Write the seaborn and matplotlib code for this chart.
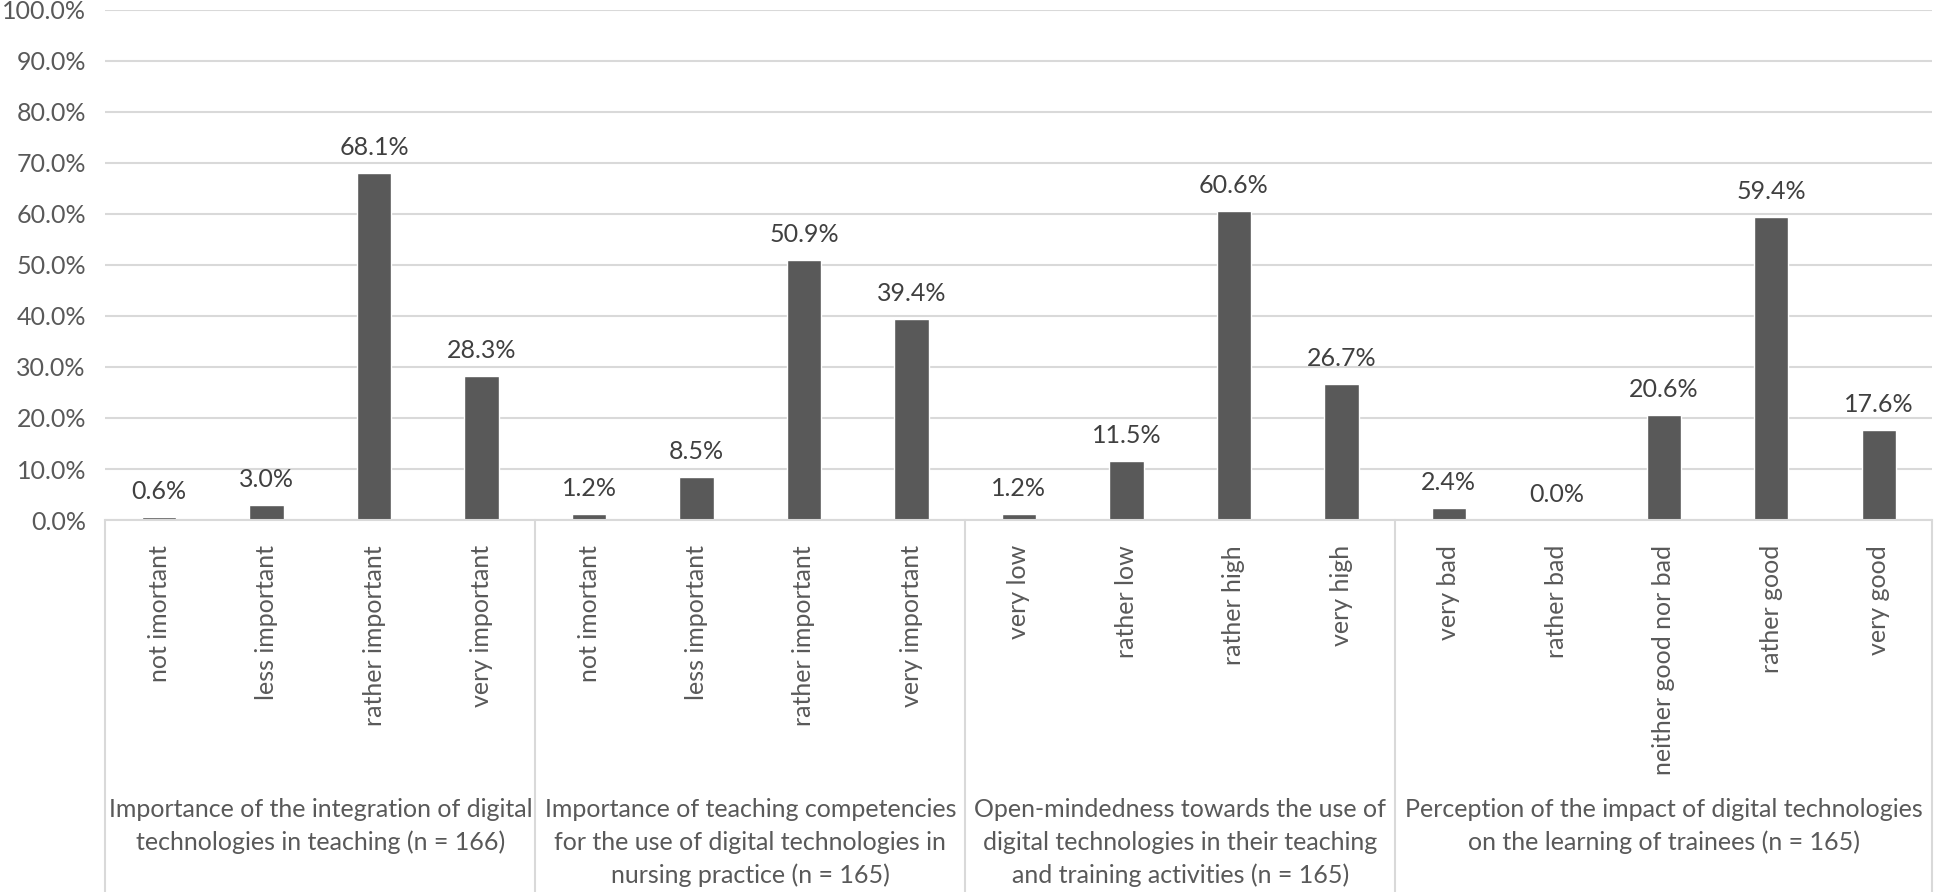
import numpy as np
import pandas as pd
import matplotlib
matplotlib.use('Agg')
import matplotlib.pyplot as plt
import matplotlib.transforms as mtransforms
import seaborn as sns

sns.set_theme(style='white')
plt.rcParams['font.family'] = ['Lato', 'DejaVu Sans']

# answers per question, in reading order
answers = ['not imortant', 'less important', 'rather important', 'very important',
           'not imortant', 'less important', 'rather important', 'very important',
           'very low', 'rather low', 'rather high', 'very high',
           'very bad', 'rather bad', 'neither good nor bad', 'rather good', 'very good']
percent = [0.6, 3.0, 68.1, 28.3,
           1.2, 8.5, 50.9, 39.4,
           1.2, 11.5, 60.6, 26.7,
           2.4, 0.0, 20.6, 59.4, 17.6]
group_sizes = [4, 4, 4, 5]
group_labels = ['Importance of the integration of digital\ntechnologies in teaching (n = 166)',
                'Importance of teaching competencies\nfor the use of digital technologies in\nnursing practice (n = 165)',
                'Open-mindedness towards the use of\ndigital technologies in their teaching\nand training activities (n = 165)',
                'Perception of the impact of digital technologies\non the learning of trainees (n = 165)']

df = pd.DataFrame({'pos': np.arange(len(percent)), 'answer': answers, 'percent': percent})

fig = plt.figure(figsize=(19.52, 8.92), dpi=100)
ax = fig.add_axes([0.054, 0.417, 0.936, 0.572])

sns.barplot(data=df, x='pos', y='percent', color='#595959', saturation=1,
            width=0.32, ax=ax)

fs = 18
ax.set_ylim(0, 100)
ax.set_xlim(-0.5, len(percent) - 0.5)
ax.set_yticks(np.arange(0, 101, 10))
ax.set_yticklabels([f'{v:.1f}%' for v in np.arange(0, 101, 10)], fontsize=fs, color='#595959')
ax.set_xticks(df['pos'])
ax.set_xticklabels(df['answer'], rotation=90, fontsize=fs, color='#595959', va='top')
ax.tick_params(axis='y', length=0, pad=14)
ax.tick_params(axis='x', length=0, pad=18)
ax.set_xlabel('')
ax.set_ylabel('')
ax.yaxis.grid(True, color='#d9d9d9', linewidth=1.5)
ax.set_axisbelow(True)
for s in ['top', 'right', 'left']:
    ax.spines[s].set_visible(False)
ax.spines['bottom'].set_color('#d9d9d9')
ax.spines['bottom'].set_linewidth(1.5)

for c in ax.containers:
    ax.bar_label(c, labels=[f'{v:.1f}%' for v in percent], padding=10,
                 fontsize=fs, color='#404040')

# group boxes under the axis
trans = mtransforms.blended_transform_factory(ax.transData, ax.transAxes)
edges = np.concatenate([[0], np.cumsum(group_sizes)]) - 0.5
for e in edges:
    ax.plot([e, e], [0, -0.75], color='#d9d9d9', linewidth=1.5,
            transform=trans, clip_on=False)
for i, lab in enumerate(group_labels):
    mid = (edges[i] + edges[i + 1]) / 2
    ax.text(mid, -0.545, lab, transform=trans, ha='center', va='top',
            fontsize=fs, color='#595959', linespacing=1.5)

fig.savefig('out.png', dpi=100)
